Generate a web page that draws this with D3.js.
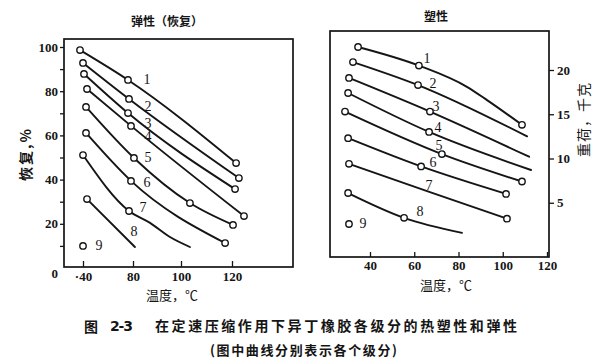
<!DOCTYPE html>
<html><head><meta charset="utf-8">
<script src="https://cdn.jsdelivr.net/npm/d3@7"></script>
<style>body{margin:0;background:#fff}svg{display:block}</style>
</head><body>
<svg id="chart" width="600" height="361"></svg>
<script>
// ---------- DATA ----------
// curve ids (fractions)
const curveIds = ["1","2","3","4","5","6","7","8","9"];

// Left panel 弹性（恢复）: [temperature °C, recovery %, measured-point flag]
const leftC1 = [[37.6,98.6,1],[76,85.1,1],[121.6,47.5,1]];
const leftC2 = [[40,92.8,1],[76.8,76.5,1],[122.7,40.7,1]];
const leftC3 = [[40.8,87.8,1],[76,70.1,1],[121.2,35.7,1]];
const leftC4 = [[43.2,81.0,1],[78.4,64.3,1],[124.7,23.5,1]];
const leftC5 = [[42.4,72.9,1],[80.4,49.8,1],[103.5,29.4,1],[120.4,19.5,1]];
const leftC6 = [[42.4,61.1,1],[78.4,39.4,1],[117.3,11.3,1]];
const leftC7 = [[40,51.1,1],[76.8,25.8,1],[87.1,20.4,0],[95.4,14.0,0],[103.5,9.5,0]];
const leftC8 = [[43.2,31.2,1],[80.8,9.5,0]];
const leftC9 = [[40,10,1]];
const leftSeries = [leftC1,leftC2,leftC3,leftC4,leftC5,leftC6,leftC7,leftC8,leftC9];
// where each curve number is printed (data units)
const leftLabelAt = [[85.8,85.5],[86.2,72.9],[86.2,65.6],[86.2,59.3],[86.2,49.8],[85.8,38.9],[84.2,27.6],[80.4,16.3],[52.8,10]];

// Right panel 塑性: [temperature °C, load kg, measured-point flag]
const rightC1 = [[34.6,22.6,1],[62.1,20.5,1],[83.8,18.1,0],[92.9,16.6,0],[108.7,13.8,1]];
const rightC2 = [[32.3,20.9,1],[61.7,18.3,1],[111.0,12.5,0]];
const rightC3 = [[30.5,19.1,1],[67.1,15.3,1],[111.9,10.2,0]];
const rightC4 = [[30.1,17.4,1],[66.7,13.0,1],[112.8,8.7,0]];
const rightC5 = [[28.7,15.3,1],[72.5,10.5,1],[108.7,7.4,1]];
const rightC6 = [[30.1,12.3,1],[63.1,9.1,1],[101.5,6.0,1]];
const rightC7 = [[30.5,9.4,1],[67.1,6.2,0],[101.9,3.2,1]];
const rightC8 = [[30.1,6.1,1],[55.4,3.3,1],[81.6,1.6,0]];
const rightC9 = [[30.5,2.6,1]];
const rightSeries = [rightC1,rightC2,rightC3,rightC4,rightC5,rightC6,rightC7,rightC8,rightC9];
const rightLabelAt = [[65.8,21.3],[68.5,18.5],[69.8,15.9],[70.7,13.5],[71.2,11.5],[68.5,9.5],[66.7,7.0],[62.6,4.0],[36.8,2.6]];

// ticks
const leftXTicks = [40,80,100,120];
const leftXTickLabels = ["·40","80","100","120"];
const leftYTicks = [0,10,20,30,40,50,60,70,80,90,100];
const leftYLabelled = [0,20,40,60,80,100];
const rightXTicks = [40,60,80,100,120];
const rightYTicks = [5,10,15,20];

// texts
const leftTitle = "弹性（恢复）";
const rightTitle = "塑性";
const xTitle = "温度，℃";
const leftYTitle = "恢复,%";
const rightYTitle = "重荷，千克";
const figNo = "图";
const figNum = "2-3";
const caption = "在定速压缩作用下异丁橡胶各级分的热塑性和弹性";
const subCaption = "(图中曲线分别表示各个级分)";

// ---------- DRAW ----------
const svg = d3.select("#chart");
const ink = "#151515";
const serif = "'Liberation Serif','DejaVu Serif',serif";
const cjk = "'Noto Sans CJK SC','Noto Sans CJK JP',sans-serif";

const L = {x0:64, x1:293, y0:39, y1:267};
const R = {x0:330, x1:549, y0:31, y1:257};

const xL = d3.scaleLinear().domain([40,80,100,120]).range([83,133,181,232]);
const yL = d3.scaleLinear().domain([0,100]).range([268,47]);
const xR = d3.scaleLinear().domain([40,120]).range([370,547]);
const yR = d3.scaleLinear().domain([0,20]).range([247,70]);

function frame(F){
  svg.append("rect").attr("x",F.x0).attr("y",F.y0)
    .attr("width",F.x1-F.x0).attr("height",F.y1-F.y0)
    .attr("fill","none").attr("stroke",ink).attr("stroke-width",1.7);
}
frame(L); frame(R);

function styleAxis(g, size, bold){
  g.select(".domain").remove();
  g.selectAll("line").attr("stroke",ink).attr("stroke-width",1.3);
  g.selectAll("text").attr("fill",ink).attr("font-family",serif)
    .attr("font-size",size).attr("font-weight",bold?"bold":"normal");
}

// left axes
const gLy = svg.append("g").attr("transform",`translate(${L.x0},0)`)
  .call(d3.axisLeft(yL).tickValues(leftYTicks).tickSize(4).tickPadding(2)
    .tickFormat(d => leftYLabelled.includes(d) ? d : ""));
styleAxis(gLy, 13, true);
gLy.selectAll(".tick").filter(d=>d===0).select("text").attr("dy","0.7em");
gLy.selectAll(".tick").filter(d=>d===0).select("line").remove();

const gLx = svg.append("g").attr("transform",`translate(0,${L.y1})`)
  .call(d3.axisBottom(xL).tickValues(leftXTicks).tickSize(-6).tickPadding(5)
    .tickFormat((d,i) => leftXTickLabels[i]));
styleAxis(gLx, 13, true);

// right axes
const gRx = svg.append("g").attr("transform",`translate(0,${R.y1})`)
  .call(d3.axisBottom(xR).tickValues(rightXTicks).tickSize(-5).tickPadding(4));
styleAxis(gRx, 13, true);

const gRy = svg.append("g").attr("transform",`translate(${R.x1},0)`)
  .call(d3.axisRight(yR).tickValues(rightYTicks).tickSize(5).tickPadding(3));
styleAxis(gRy, 13, true);

// curves
function drawPanel(series, labels, x, y){
  const line = d3.line().x(d=>x(d[0])).y(d=>y(d[1])).curve(d3.curveMonotoneX);
  const g = svg.append("g");
  series.forEach((s,i)=>{
    if (s.length>1){
      g.append("path").attr("d",line(s)).attr("fill","none")
        .attr("stroke",ink).attr("stroke-width",1.9).attr("stroke-linecap","round");
    }
    g.selectAll(null).data(s.filter(d=>d[2]===1)).enter().append("circle")
      .attr("cx",d=>x(d[0])).attr("cy",d=>y(d[1])).attr("r",3.2)
      .attr("fill","#fff").attr("stroke",ink).attr("stroke-width",1.4);
    g.append("text").attr("x",x(labels[i][0])).attr("y",y(labels[i][1]))
      .attr("text-anchor","middle").attr("dominant-baseline","central")
      .attr("font-family",serif).attr("font-size",14).attr("fill",ink)
      .text(curveIds[i]);
  });
}
drawPanel(leftSeries, leftLabelAt, xL, yL);
drawPanel(rightSeries, rightLabelAt, xR, yR);

// titles
function txt(x,y,s,opts={}){
  const t = svg.append("text").attr("x",x).attr("y",y)
    .attr("text-anchor",opts.anchor||"middle").attr("dominant-baseline","central")
    .attr("font-family",opts.font||cjk).attr("font-size",opts.size||13)
    .attr("font-weight",opts.weight||"normal").attr("fill",ink).text(s);
  if (opts.rotate) t.attr("transform",`rotate(${opts.rotate},${x},${y})`);
  if (opts.len) t.attr("textLength",opts.len).attr("lengthAdjust","spacing");
  return t;
}
txt(167,20,leftTitle,{size:12,weight:"bold"});
txt(436,15,rightTitle,{size:12,weight:"bold"});
txt(172,294,xTitle,{size:13});
txt(446,284,xTitle,{size:13});
txt(25,155,leftYTitle,{size:14,weight:"bold",rotate:-90,len:52});
txt(583,120,rightYTitle,{size:14,rotate:-90,len:74});

txt(91,326,figNo,{size:14,weight:"bold"});
txt(110,326,figNum,{size:14,weight:"bold",anchor:"start",font:"'DejaVu Sans',sans-serif",len:23});
txt(155,325,caption,{size:14,weight:"bold",anchor:"start",len:362});
txt(210,349,subCaption,{size:13,weight:"bold",anchor:"start",len:187});
</script>
</body></html>
